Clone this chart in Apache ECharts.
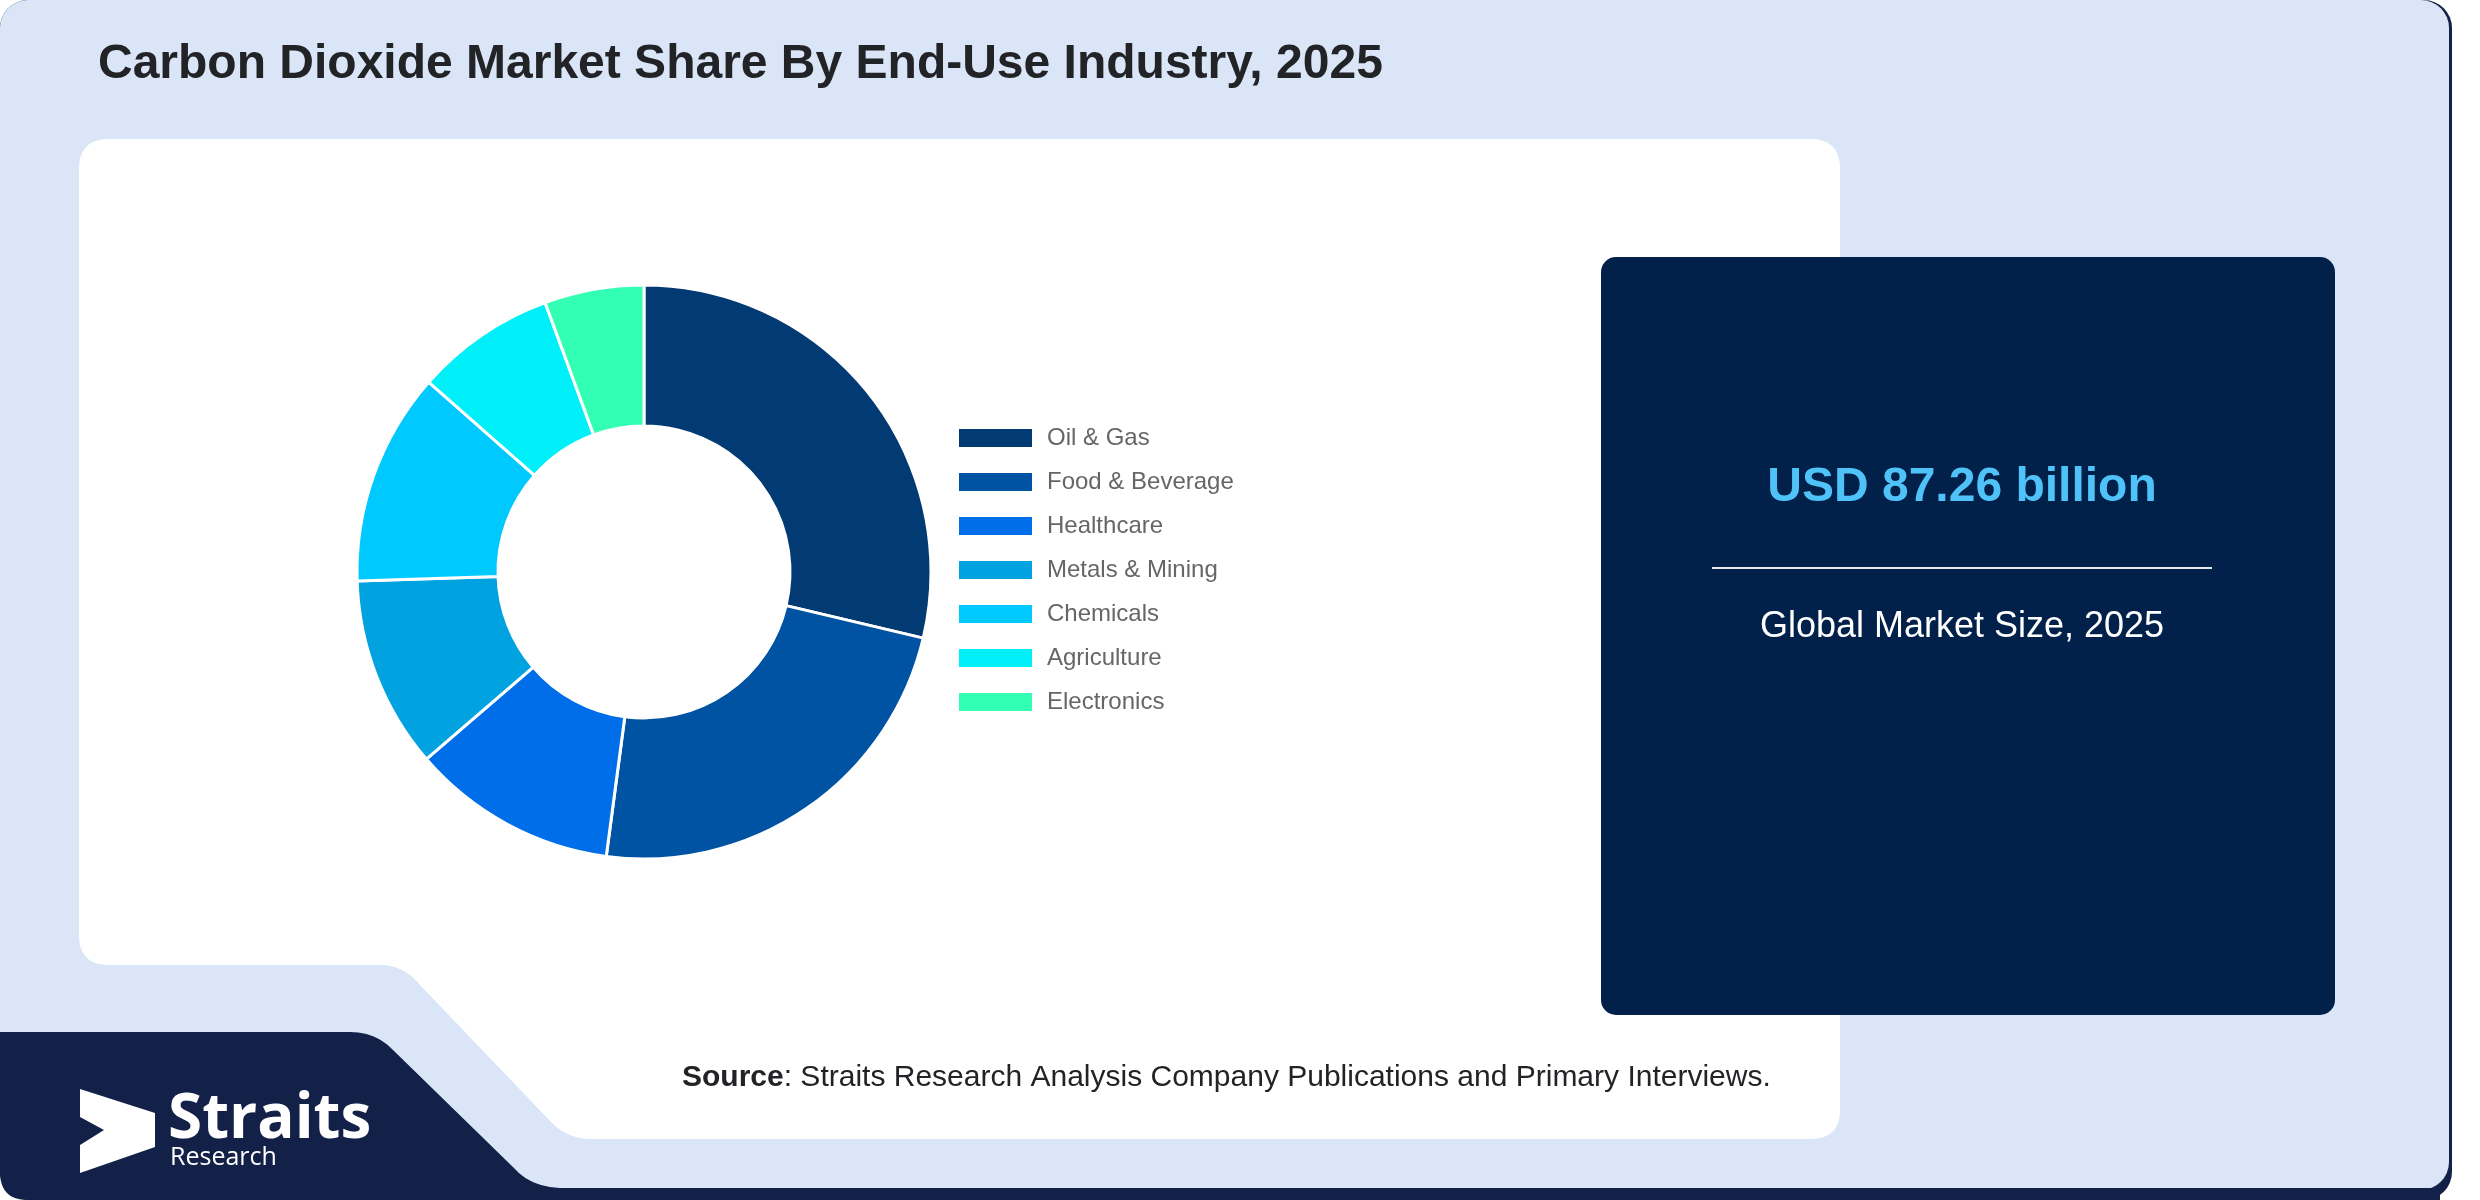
<!DOCTYPE html>
<html>
<head>
<meta charset="utf-8">
<script src="https://cdn.jsdelivr.net/npm/echarts@6/dist/echarts.min.js"></script>
<style>
html,body{margin:0;padding:0;background:#ffffff;}
#chart{width:2480px;height:1200px;}
</style>
</head>
<body>
<div id="chart"></div>
<script>
const categories = ['Oil & Gas', 'Food & Beverage', 'Healthcare', 'Metals & Mining', 'Chemicals', 'Agriculture', 'Electronics'];
const shares = [28.7, 23.4, 11.6, 10.8, 12.0, 7.9, 5.6];
const sliceColors = ['#023a74', '#0052a3', '#006ee8', '#00a3e0', '#00c9ff', '#00f0fa', '#33ffb4'];
const titleText = 'Carbon Dioxide Market Share By End-Use Industry, 2025';
const marketValue = 'USD 87.26 billion';
const marketLabel = 'Global Market Size, 2025';
const sourceLabel = 'Source';
const sourceText = ': Straits Research Analysis Company Publications and Primary Interviews.';

const chart = echarts.init(document.getElementById('chart'), null, {renderer: 'canvas', width: 2480, height: 1200});

const NAVY = '#132149';

// build a polygon outline from segments: ['L', x, y] or ['Q', cx, cy, x, y]
function outline(start, segs) {
  const pts = [start.slice()];
  let cur = start.slice();
  segs.forEach(s => {
    if (s[0] === 'L') { cur = [s[1], s[2]]; pts.push(cur); }
    else {
      const cx = s[1], cy = s[2], ex = s[3], ey = s[4];
      for (let k = 1; k <= 12; k++) {
        const t = k / 12, u = 1 - t;
        pts.push([u * u * cur[0] + 2 * u * t * cx + t * t * ex, u * u * cur[1] + 2 * u * t * cy + t * t * ey]);
      }
      cur = [ex, ey];
    }
  });
  return pts;
}

const navyShape = outline([0, 1032], [
  ['L', 350, 1032], ['Q', 376, 1032, 393, 1050], ['L', 516, 1170], ['Q', 533, 1188, 565, 1188],
  ['L', 2440, 1188], ['L', 2440, 1200], ['L', 28, 1200], ['Q', 0, 1200, 0, 1172]
]);
const whiteShape = outline([109, 139], [
  ['L', 1810, 139], ['Q', 1840, 139, 1840, 169], ['L', 1840, 1110], ['Q', 1840, 1139, 1810, 1139],
  ['L', 592, 1139], ['Q', 568, 1139, 552, 1123], ['L', 420, 985], ['Q', 404, 965, 380, 965],
  ['L', 109, 965], ['Q', 79, 965, 79, 935], ['L', 79, 169], ['Q', 79, 139, 109, 139]
]);

const option = {
  animation: false,
  backgroundColor: '#ffffff',
  color: sliceColors,
  legend: {
    orient: 'vertical',
    left: 957,
    top: 426,
    icon: 'rect',
    itemWidth: 75,
    itemHeight: 20,
    itemGap: 20,
    padding: 0,
    selectedMode: false,
    textStyle: {
      fontFamily: 'Liberation Sans, Arial, sans-serif',
      fontSize: 24,
      lineHeight: 20,
      color: '#666666',
      padding: [0, 0, 0, 9]
    },
    data: categories
  },
  graphic: {
    elements: [
      {type: 'rect', z: -30, shape: {x: 0, y: 0, width: 2452, height: 1200, r: 28}, style: {fill: NAVY}},
      {type: 'rect', z: -29, shape: {x: 0, y: 0, width: 2449, height: 1190, r: 28}, style: {fill: '#dae6f8'}},
      {type: 'polygon', z: -28, shape: {points: navyShape}, style: {fill: NAVY}},
      {type: 'polygon', z: -27, shape: {points: whiteShape}, style: {fill: '#ffffff'}},
      {type: 'rect', z: -26, shape: {x: 1601, y: 257, width: 734, height: 758, r: 15}, style: {fill: '#01204a'}},
      {type: 'text', z: 50, style: {x: 98, y: 65, text: titleText, fill: '#222326',
        font: 'bold 48px "Liberation Sans", Arial, sans-serif', textAlign: 'left', textVerticalAlign: 'middle'}},
      {type: 'text', z: 50, style: {x: 1962, y: 488, text: marketValue, fill: '#4fc3f7',
        font: 'bold 48px "Liberation Sans", Arial, sans-serif', textAlign: 'center', textVerticalAlign: 'middle'}},
      {type: 'line', z: 50, shape: {x1: 1712, y1: 568, x2: 2212, y2: 568}, style: {stroke: '#e6e9ee', lineWidth: 2}},
      {type: 'text', z: 50, style: {x: 1962, y: 627, text: marketLabel, fill: '#ffffff',
        font: '36px "Liberation Sans", Arial, sans-serif', textAlign: 'center', textVerticalAlign: 'middle'}},
      {type: 'text', z: 50, style: {x: 682, y: 1078,
        text: '{b|' + sourceLabel + '}{n|' + sourceText + '}',
        textAlign: 'left', textVerticalAlign: 'middle',
        rich: {
          b: {fontFamily: 'Liberation Sans, Arial, sans-serif', fontSize: 30, fontWeight: 'bold', fill: '#222326'},
          n: {fontFamily: 'Liberation Sans, Arial, sans-serif', fontSize: 30, fill: '#222326'}
        }}},
      {type: 'polygon', z: 50, shape: {points: [[80, 1089], [155, 1113], [155, 1147], [80, 1173], [80, 1145], [104, 1130], [80, 1117]]}, style: {fill: '#ffffff'}},
      {type: 'text', z: 50, style: {x: 168, y: 1120, text: 'Straits', fill: '#ffffff',
        font: 'bold 62px "Open Sans", sans-serif', textAlign: 'left', textVerticalAlign: 'middle'}},
      {type: 'text', z: 50, style: {x: 170, y: 1158, text: 'Research', fill: '#ffffff',
        font: '25px "Open Sans", sans-serif', textAlign: 'left', textVerticalAlign: 'middle'}}
    ]
  },
  series: [{
    type: 'pie',
    center: [644, 572],
    radius: [146, 287],
    startAngle: 90,
    clockwise: true,
    label: {show: false},
    labelLine: {show: false},
    emphasis: {disabled: true},
    itemStyle: {borderColor: '#ffffff', borderWidth: 3},
    data: categories.map((c, i) => ({name: c, value: shares[i]}))
  }]
};
chart.setOption(option);
</script>
</body>
</html>
